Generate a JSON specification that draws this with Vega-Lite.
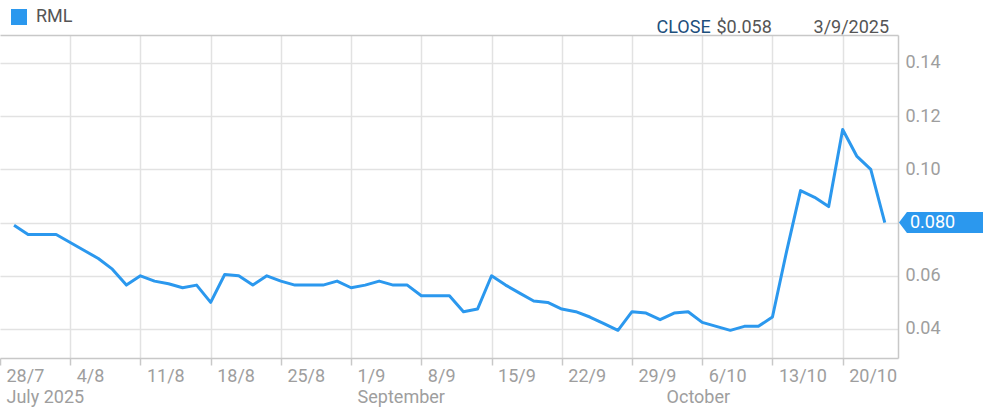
{
  "$schema": "https://vega.github.io/schema/vega-lite/v6.json",
  "width": 898,
  "height": 323,
  "autosize": {"type": "none"},
  "padding": {"left": 0, "top": 35, "right": 85, "bottom": 56},
  "background": "white",
  "config": {
    "view": {"stroke": null},
    "font": "Roboto",
    "axis": {"labelFont": "Roboto", "titleFont": "Roboto"},
    "legend": {"labelFont": "Roboto"}
  },
  "data": {
    "values": [
      {"k": 1, "d": "2025-07-29", "v": 0.079},
      {"k": 2, "d": "2025-07-30", "v": 0.0755},
      {"k": 3, "d": "2025-07-31", "v": 0.0755},
      {"k": 4, "d": "2025-08-01", "v": 0.0755},
      {"k": 5, "d": "2025-08-04", "v": 0.0725},
      {"k": 6, "d": "2025-08-05", "v": 0.0695},
      {"k": 7, "d": "2025-08-06", "v": 0.0665},
      {"k": 8, "d": "2025-08-07", "v": 0.0625},
      {"k": 9, "d": "2025-08-08", "v": 0.0565},
      {"k": 10, "d": "2025-08-11", "v": 0.06},
      {"k": 11, "d": "2025-08-12", "v": 0.058},
      {"k": 12, "d": "2025-08-13", "v": 0.057},
      {"k": 13, "d": "2025-08-14", "v": 0.0555},
      {"k": 14, "d": "2025-08-15", "v": 0.0565},
      {"k": 15, "d": "2025-08-18", "v": 0.05},
      {"k": 16, "d": "2025-08-19", "v": 0.0605},
      {"k": 17, "d": "2025-08-20", "v": 0.06},
      {"k": 18, "d": "2025-08-21", "v": 0.0565},
      {"k": 19, "d": "2025-08-22", "v": 0.06},
      {"k": 20, "d": "2025-08-25", "v": 0.058},
      {"k": 21, "d": "2025-08-26", "v": 0.0565},
      {"k": 22, "d": "2025-08-27", "v": 0.0565},
      {"k": 23, "d": "2025-08-28", "v": 0.0565},
      {"k": 24, "d": "2025-08-29", "v": 0.058},
      {"k": 25, "d": "2025-09-01", "v": 0.0555},
      {"k": 26, "d": "2025-09-02", "v": 0.0565},
      {"k": 27, "d": "2025-09-03", "v": 0.058},
      {"k": 28, "d": "2025-09-04", "v": 0.0565},
      {"k": 29, "d": "2025-09-05", "v": 0.0565},
      {"k": 30, "d": "2025-09-08", "v": 0.0525},
      {"k": 31, "d": "2025-09-09", "v": 0.0525},
      {"k": 32, "d": "2025-09-10", "v": 0.0525},
      {"k": 33, "d": "2025-09-11", "v": 0.0465},
      {"k": 34, "d": "2025-09-12", "v": 0.0475},
      {"k": 35, "d": "2025-09-15", "v": 0.06},
      {"k": 36, "d": "2025-09-16", "v": 0.0565},
      {"k": 37, "d": "2025-09-17", "v": 0.0535},
      {"k": 38, "d": "2025-09-18", "v": 0.0505},
      {"k": 39, "d": "2025-09-19", "v": 0.05},
      {"k": 40, "d": "2025-09-22", "v": 0.0475},
      {"k": 41, "d": "2025-09-23", "v": 0.0465},
      {"k": 42, "d": "2025-09-24", "v": 0.0445},
      {"k": 43, "d": "2025-09-25", "v": 0.042},
      {"k": 44, "d": "2025-09-26", "v": 0.0395},
      {"k": 45, "d": "2025-09-29", "v": 0.0465},
      {"k": 46, "d": "2025-09-30", "v": 0.046},
      {"k": 47, "d": "2025-10-01", "v": 0.0435},
      {"k": 48, "d": "2025-10-02", "v": 0.046},
      {"k": 49, "d": "2025-10-03", "v": 0.0465},
      {"k": 50, "d": "2025-10-06", "v": 0.0425},
      {"k": 51, "d": "2025-10-07", "v": 0.041},
      {"k": 52, "d": "2025-10-08", "v": 0.0395},
      {"k": 53, "d": "2025-10-09", "v": 0.041},
      {"k": 54, "d": "2025-10-10", "v": 0.041},
      {"k": 55, "d": "2025-10-13", "v": 0.0445},
      {"k": 56, "d": "2025-10-14", "v": 0.069},
      {"k": 57, "d": "2025-10-15", "v": 0.092},
      {"k": 58, "d": "2025-10-16", "v": 0.0895},
      {"k": 59, "d": "2025-10-17", "v": 0.086},
      {"k": 60, "d": "2025-10-20", "v": 0.115},
      {"k": 61, "d": "2025-10-21", "v": 0.105},
      {"k": 62, "d": "2025-10-22", "v": 0.1},
      {"k": 63, "d": "2025-10-23", "v": 0.08}
    ]
  },
  "layer": [
    {
      "mark": {"type": "line", "strokeWidth": 3, "strokeJoin": "round"},
      "encoding": {
        "x": {
          "field": "k",
          "type": "quantitative",
          "scale": {"domain": [0, 63.94], "nice": false, "zero": false},
          "axis": {
            "orient": "bottom",
            "title": null,
            "values": [0, 5, 10, 15, 20, 25, 30, 35, 40, 45, 47, 50, 55, 60],
            "labelExpr": "datum.value == 0 ? ['28/7', 'July 2025'] : datum.value == 5 ? '4/8' : datum.value == 10 ? '11/8' : datum.value == 15 ? '18/8' : datum.value == 20 ? '25/8' : datum.value == 25 ? ['1/9', 'September'] : datum.value == 30 ? '8/9' : datum.value == 35 ? '15/9' : datum.value == 40 ? '22/9' : datum.value == 45 ? '29/9' : datum.value == 47 ? [' ', 'October'] : datum.value == 50 ? '6/10' : datum.value == 55 ? '13/10' : '20/10'",
            "grid": true,
            "gridColor": "#e2e2e2",
            "gridWidth": 1.5,
            "gridOpacity": {"expr": "datum.value == 47 || datum.value == 0 ? 0 : 1"},
            "domain": true,
            "domainColor": "#c8c8c8",
            "domainWidth": 1.5,
            "ticks": true,
            "tickColor": "#c8c8c8",
            "tickWidth": 1.5,
            "tickSize": 7,
            "tickOpacity": {"expr": "datum.value == 47 ? 0 : 1"},
            "labelColor": "#9e9e9e",
            "labelFontSize": 18,
            "labelAlign": "left",
            "labelBaseline": "top",
            "labelOffset": 6,
            "labelPadding": 2,
            "labelLineHeight": 21,
            "labelOverlap": false,
            "labelFlush": false,
            "labelBound": false
          }
        },
        "y": {
          "field": "v",
          "type": "quantitative",
          "scale": {"domain": [0.0291, 0.1505], "nice": false, "zero": false},
          "axis": {
            "orient": "right",
            "title": null,
            "values": [0.04, 0.06, 0.08, 0.1, 0.12, 0.14],
            "labelExpr": "datum.value > 0.079 && datum.value < 0.081 ? '' : format(datum.value, '.2f')",
            "grid": true,
            "gridColor": "#e2e2e2",
            "gridWidth": 1.5,
            "domain": true,
            "domainColor": "#c8c8c8",
            "domainWidth": 1.5,
            "ticks": false,
            "labelPadding": 7,
            "labelColor": "#9e9e9e",
            "labelFontSize": 18,
            "labelOverlap": false,
            "labelFlush": false,
            "labelBound": false
          }
        },
        "color": {
          "datum": "RML",
          "type": "nominal",
          "scale": {"range": ["#2b98ee"]},
          "legend": {
            "title": null,
            "orient": "none",
            "legendX": 10,
            "legendY": -27,
            "padding": 0,
            "symbolType": "square",
            "symbolSize": 256,
            "symbolStrokeWidth": 0,
            "symbolFillColor": "#2b98ee",
            "labelFontSize": 18,
            "labelColor": "#555555",
            "labelOffset": 8,
            "encode": {"symbols": {"update": {"fill": {"value": "#2b98ee"}, "stroke": {"value": "transparent"}}}}
          }
        }
      }
    },
    {
      "transform": [{"filter": "datum.k == 63"}],
      "mark": {
        "type": "point",
        "filled": true,
        "opacity": 1,
        "shape": "M -1 0 L -0.814 -0.244 L 1 -0.244 L 1 0.244 L -0.814 0.244 Z",
        "size": 7396,
        "color": "#2b98ee"
      },
      "encoding": {
        "x": {
          "datum": 67.07,
          "type": "quantitative",
          "axis": {
            "orient": "top",
            "title": null,
            "values": [46.71, 50.98, 57.89],
            "labelExpr": "datum.value < 48 ? 'CLOSE' : datum.value < 55 ? '$0.058' : '3/9/2025'",
            "labelColor": {"expr": "datum.value < 48 ? '#1d4f7c' : '#555555'"},
            "labelFontSize": 18,
            "labelAlign": "left",
            "labelBaseline": "alphabetic",
            "labelPadding": 3,
            "grid": false,
            "ticks": false,
            "domain": true,
            "domainColor": "#c8c8c8",
            "domainWidth": 1.5,
            "labelOverlap": false,
            "labelFlush": false,
            "labelBound": false
          }
        },
        "y": {"field": "v", "type": "quantitative", "axis": null}
      }
    },
    {
      "transform": [{"filter": "datum.k == 63"}],
      "mark": {"type": "text", "align": "left", "baseline": "middle", "color": "white", "fontSize": 18, "font": "Roboto"},
      "encoding": {
        "x": {"datum": 64.79, "type": "quantitative", "axis": null},
        "y": {"field": "v", "type": "quantitative", "axis": null},
        "text": {"field": "v", "type": "quantitative", "format": ".3f"}
      }
    }
  ],
  "resolve": {"axis": {"x": "independent", "y": "independent"}}
}
